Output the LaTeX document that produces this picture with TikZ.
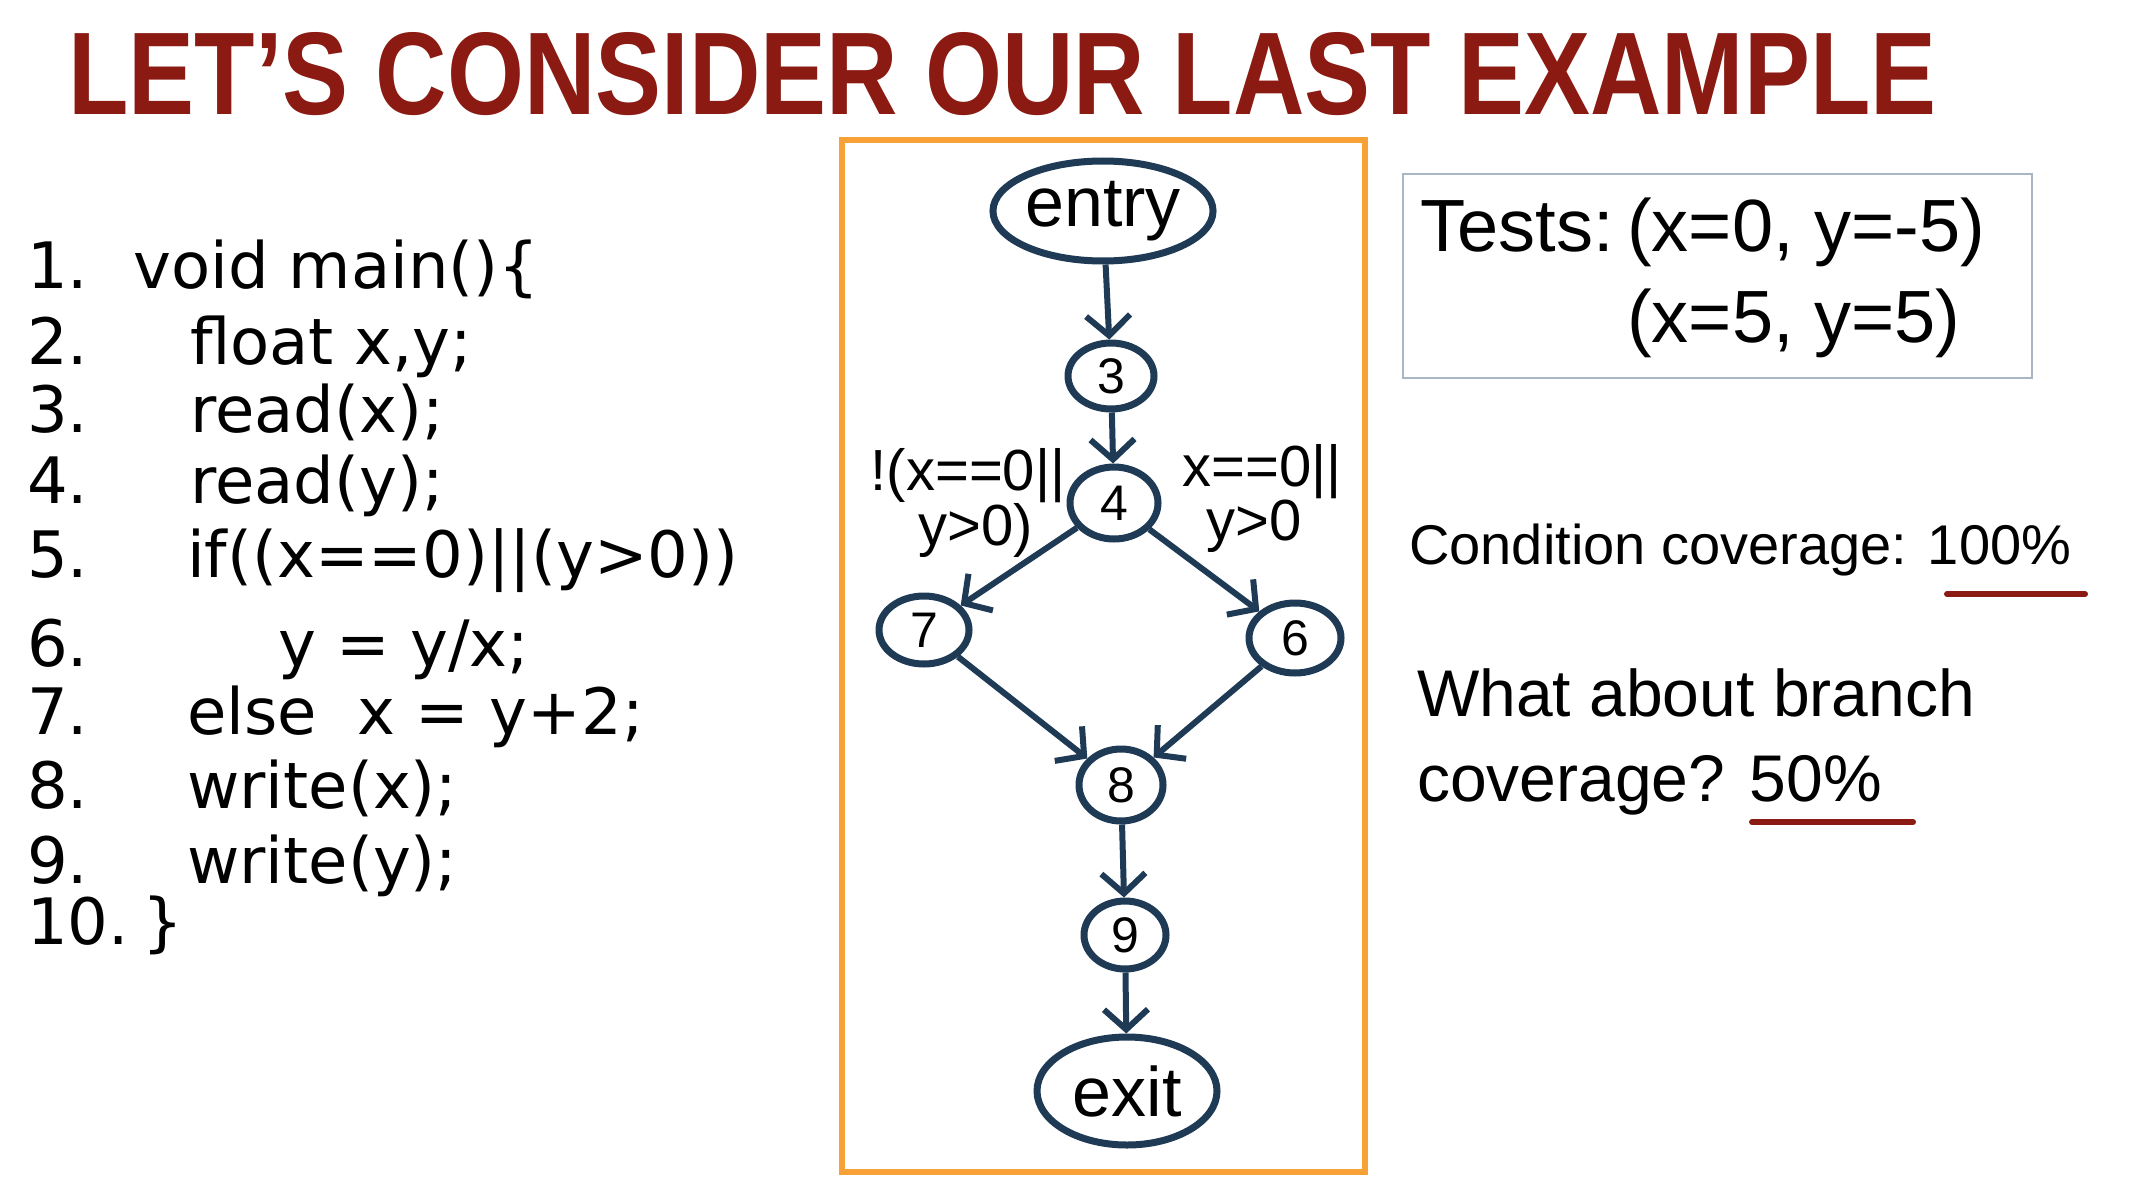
\documentclass[tikz,border=0pt]{standalone}
\usepackage{fontspec}
\setmainfont{Liberation Sans}
\newfontfamily\codefont{DejaVu Sans}
\usepackage{graphicx}
\usetikzlibrary{arrows.meta,shapes.geometric}
\definecolor{ttl}{HTML}{8A1A12}
\definecolor{navy}{HTML}{1E3A55}
\definecolor{orng}{HTML}{F7A136}
\definecolor{tbox}{HTML}{A9B6C4}
\begin{document}
\begin{tikzpicture}[x=1pt,y=-1pt,
  code/.style={anchor=base west, inner sep=0, font=\codefont\fontsize{64}{70}\selectfont},
  side/.style={anchor=base west, inner sep=0, font=\fontsize{66}{74}\selectfont},
  tst/.style={anchor=base west, inner sep=0, font=\fontsize{74}{80}\selectfont},
  cfgnode/.style={ellipse, draw=navy, line width=7pt, inner sep=0, fill=white, font=\fontsize{50}{54}\selectfont},
  endnode/.style={ellipse, draw=navy, line width=7pt, inner sep=0, fill=white, font=\fontsize{70}{76}\selectfont},
  flow/.style={draw=navy, line width=6pt, -{Straight Barb[length=20pt,width=44pt]}},
  cond/.style={anchor=center, inner sep=0, font=\fontsize{58}{62}\selectfont},
  uline/.style={draw=ttl, line width=6pt, line cap=round}]
\useasboundingbox (0,0) rectangle (2130,1204);
\fill[white] (0,0) rectangle (2130,1204);

% title
\node[anchor=base west, inner sep=0, text=ttl] (title) at (68,115)
  {\resizebox{1868pt}{82pt}{\bfseries LET'S CONSIDER OUR LAST EXAMPLE}};

% code
\node[code] (n1) at (27,288) {1.};
\node[code] (n2) at (27,364) {2.};
\node[code] (n3) at (27,432) {3.};
\node[code] (n4) at (27,503) {4.};
\node[code] (n5) at (27,577) {5.};
\node[code] (n6) at (27,666) {6.};
\node[code] (n7) at (27,734) {7.};
\node[code] (n8) at (27,808) {8.};
\node[code] (n9) at (27,883) {9.};
\node[code] (n10) at (27,944) {10.};
\node[code] (c1) at (133,288) {void main()\{};
\node[code] (c2) at (190,364) {float x,y;};
\node[code] (c3) at (190,432) {read(x);};
\node[code] (c4) at (190,503) {read(y);};
\node[code] (c5) at (187,577) {if((x==0)||(y>0))};
\node[code] (c6) at (278,666) {y = y/x;};
\node[code] (c7) at (187,734) {else\ \ x = y+2;};
\node[code] (c8) at (187,808) {write(x);};
\node[code] (c9) at (187,883) {write(y);};
\node[code] (c10) at (142,944) {\}};

% graph frame
\draw[draw=orng, line width=6pt] (842,140) rectangle (1365,1172);

\node[endnode, minimum width=176pt, minimum height=100pt] (entry) at (1103,211) {entry};
\node[cfgnode, minimum width=86pt, minimum height=66pt] (g3) at (1111,376) {3};
\node[cfgnode, minimum width=88pt, minimum height=72pt] (g4) at (1114,503) {4};
\node[cfgnode, minimum width=90pt, minimum height=68pt] (g7) at (924,630) {7};
\node[cfgnode, minimum width=92pt, minimum height=70pt] (g6) at (1295,638) {6};
\node[cfgnode, minimum width=84pt, minimum height=72pt] (g8) at (1121,785) {8};
\node[cfgnode, minimum width=82pt, minimum height=68pt] (g9) at (1125,935) {9};
\node[endnode, minimum width=180pt, minimum height=108pt] (exit) at (1127,1091) {exit};

\draw[flow] (entry) -- (g3);
\draw[flow] (g3) -- (g4);
\draw[flow] (g4) -- (g7);
\draw[flow] (g4) -- (g6);
\draw[flow] (g7) -- (g8);
\draw[flow] (g6) -- (g8);
\draw[flow] (g8) -- (g9);
\draw[flow] (g9) -- (exit);

\node[cond] (lf1) at (968,476) {!(x==0||};
\node[cond] (lf2) at (976,530) {y>0)};
\node[cond] (rt1) at (1262,472) {x==0||};
\node[cond] (rt2) at (1254,526) {y>0};

% tests box
\draw[draw=tbox, line width=2.5pt] (1403,174) rectangle (2032,378);
\node[tst] (tlab) at (1420,251) {Tests:};
\node[tst] (t1) at (1627,251) {(x=0, y=-5)};
\node[tst] (t2) at (1627,342) {(x=5, y=5)};

% coverage text
\node[side, font=\fontsize{56}{64}\selectfont] (cc) at (1409,564) {Condition coverage: 100\%};
\draw[uline] (1947,594) -- (2085,594);
\node[side] (wb1) at (1417,716) {What about branch};
\node[side] (wb2) at (1417,801) {coverage? 50\%};
\draw[uline] (1752,822) -- (1913,822);
\end{tikzpicture}
\end{document}
